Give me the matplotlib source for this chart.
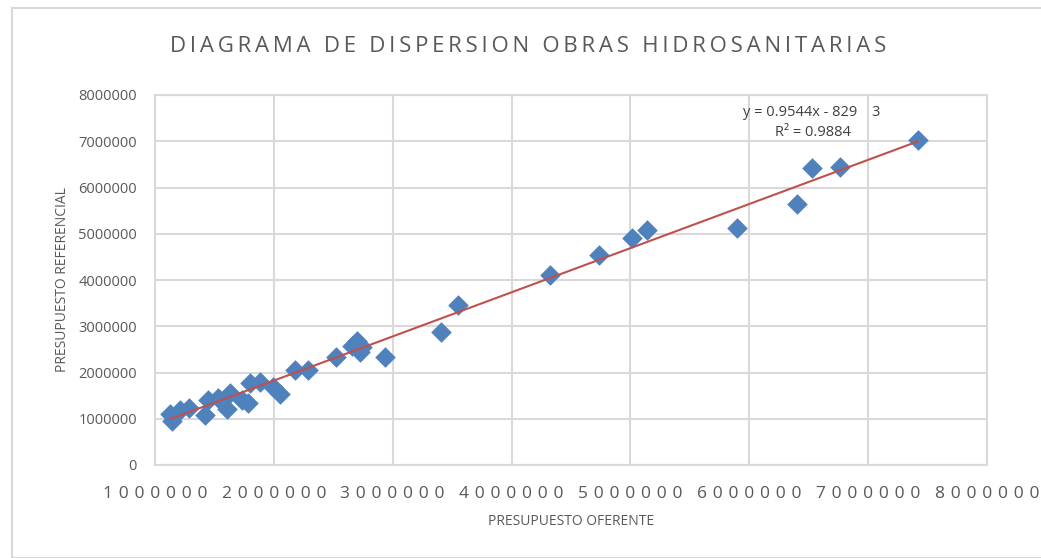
import numpy as np
import matplotlib
matplotlib.use("Agg")
import matplotlib.pyplot as plt
from matplotlib.patches import Rectangle
from matplotlib.ticker import FuncFormatter

# presupuesto oferente (x) y referencial (y)
oferente = [1143000, 1126000, 1210000, 1286000, 1420000, 1446000, 1530000,
            1606000, 1630000, 1730000, 1780000, 1800000, 1883000, 1990000,
            2050000, 2180000, 2290000, 2520000, 2657000, 2700000, 2724000,
            2740000, 2934000, 3405000, 3548000, 4322000, 4734000, 5012000,
            5138000, 5895000, 6400000, 6526000, 6761000, 7417000]
referencial = [950000, 1100000, 1190000, 1230000, 1090000, 1405000, 1450000,
               1210000, 1557000, 1400000, 1330000, 1770000, 1795000, 1690000,
               1540000, 2050000, 2050000, 2335000, 2570000, 2680000, 2440000,
               2560000, 2335000, 2880000, 3460000, 4108000, 4540000, 4908000,
               5080000, 5124000, 5643000, 6420000, 6443000, 7030000]

# linea de tendencia (Excel)
pendiente = 0.9544
intercepto = -82913

x_ticks = [1000000, 2000000, 3000000, 4000000, 5000000, 6000000, 7000000, 8000000]
y_ticks = [0, 1000000, 2000000, 3000000, 4000000, 5000000, 6000000, 7000000, 8000000]

titulo = "DIAGRAMA DE DISPERSION OBRAS HIDROSANITARIAS"

gris = "#595959"
rejilla = "#D9D9D9"

plt.rcParams['font.family'] = ['Open Sans', 'DejaVu Sans']


def espaciar(s, sep):
    # imita el espaciado entre caracteres de Excel
    return sep.join(s)


fig = plt.figure(figsize=(10.41, 5.58), dpi=100)
ax = fig.add_axes([155/1041, 1-465/558, (987-155)/1041, (465-95)/558])

# borde del area del grafico
fig.patches.append(Rectangle((12/1041, 0), 1.2, (558-8)/558, transform=fig.transFigure,
                             fill=False, edgecolor=rejilla, linewidth=1.5))

ax.scatter(oferente, referencial, marker='D', s=110, color='#4F81BD', zorder=3,
           linewidths=0)

xs = np.array([min(oferente), max(oferente)])
ax.plot(xs, pendiente*xs + intercepto, color='#C0504D', linewidth=1.5, zorder=4)

ax.set_xlim(1000000, 8000000)
ax.set_ylim(0, 8000000)
ax.set_xticks(x_ticks)
ax.set_yticks(y_ticks)
ax.xaxis.set_major_formatter(FuncFormatter(lambda v, p: espaciar(f"{int(v)}", "\u2009\u2009")))
ax.yaxis.set_major_formatter(FuncFormatter(lambda v, p: f"{int(v)}"))
ax.tick_params(length=0, colors=gris, labelsize=10.5)
ax.tick_params(axis='x', pad=15, labelsize=12.5)
ax.tick_params(axis='y', pad=13)
ax.grid(True, color=rejilla, linewidth=1.5)
ax.set_axisbelow(True)
for s in ax.spines.values():
    s.set_color(rejilla)
    s.set_linewidth(1.5)

ax.set_xlabel("PRESUPUESTO OFERENTE", color=gris, fontsize=10, labelpad=9)
ax.set_ylabel("PRESUPUESTO REFERENCIAL", color=gris, fontsize=10, labelpad=6)

fig.text(528/1041, 1-47/558, espaciar(titulo, "\u2009"),
         ha='center', va='center', fontsize=16, color=gris)

fig.text(857/1041, 1-112/558, "y = 0.9544x - 829", ha='right', va='center',
         fontsize=10.5, color='#404040')
fig.text(876/1041, 1-112/558, "3", ha='center', va='center',
         fontsize=10.5, color='#404040')
fig.text(813/1041, 1-133/558, "R² = 0.9884", ha='center', va='center',
         fontsize=10.5, color='#404040')

fig.savefig("out.png", dpi=100)
